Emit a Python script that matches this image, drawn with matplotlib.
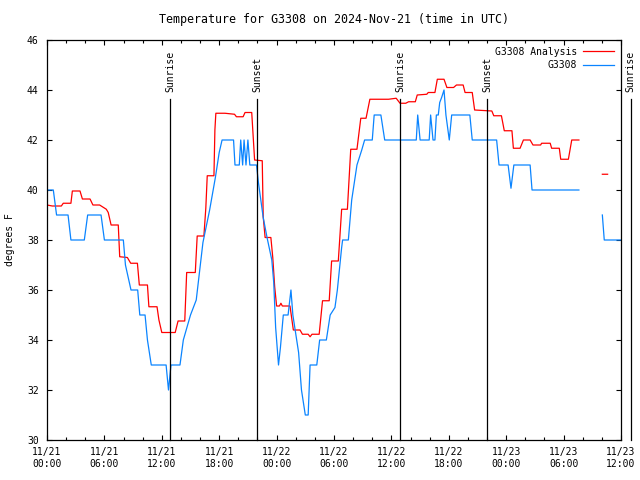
import numpy as np
import matplotlib
matplotlib.use("Agg")
import matplotlib.pyplot as plt
from matplotlib.ticker import MultipleLocator

# hours since 2024-11-21 00:00 UTC
analysis_hours = [0.0, 0.55, 1.5, 1.7, 2.5, 2.65, 3.45, 3.7, 4.5, 4.8, 5.5, 6.2, 6.4,
                  6.7, 7.45, 7.6, 8.4, 8.75, 9.45, 9.65, 10.5, 10.65, 11.5, 11.7, 12.0,
                  13.4, 13.7, 14.4, 14.6, 15.5, 15.7, 16.4, 16.6, 16.75, 17.45, 17.55,
                  17.65, 18.6, 19.6, 19.8, 20.5, 20.7, 21.4, 21.7, 22.5, 22.6, 22.8,
                  23.4, 23.6, 23.8, 24.0, 24.3, 24.45, 24.6, 25.4, 25.75, 26.45, 26.7,
                  27.3, 27.5, 27.7, 28.45, 28.8, 29.5, 29.75, 30.45, 30.8, 31.4, 31.75,
                  32.4, 32.8, 33.35, 33.75, 35.7, 36.5, 36.9, 37.5, 37.8, 38.5, 38.7,
                  39.7, 39.85, 40.55, 40.8, 41.5, 41.8, 42.5, 42.8, 43.5, 43.7, 44.45,
                  44.7, 46.5, 46.7, 47.5, 47.8, 48.6, 48.75, 49.45, 49.8, 50.5, 50.8,
                  51.6, 51.7, 52.6, 52.75, 53.55, 53.7, 54.5, 54.85, 55.6, 56.0,
                  58.05, 58.6]
analysis_temp = [39.4, 39.36, 39.36, 39.47, 39.47, 39.96, 39.96, 39.64, 39.64, 39.4, 39.4,
                 39.23, 39.1, 38.6, 38.6, 37.33, 37.3, 37.07, 37.07, 36.2, 36.2, 35.33,
                 35.33, 34.8, 34.3, 34.3, 34.76, 34.76, 36.7, 36.7, 38.16, 38.16, 39.27,
                 40.57, 40.57, 42.4, 43.07, 43.07, 43.03, 42.93, 42.93, 43.1, 43.1, 41.2,
                 41.17, 38.93, 38.1, 38.1, 37.3, 36.13, 35.36, 35.36, 35.47, 35.36, 35.36,
                 34.4, 34.4, 34.23, 34.23, 34.13, 34.23, 34.23, 35.57, 35.57, 37.16,
                 37.16, 39.23, 39.23, 41.63, 41.63, 42.87, 42.87, 43.63, 43.63, 43.67,
                 43.47, 43.47, 43.53, 43.53, 43.8, 43.83, 43.9, 43.9, 44.43, 44.43, 44.1,
                 44.1, 44.2, 44.2, 43.9, 43.9, 43.2, 43.16, 42.97, 42.97, 42.37, 42.37,
                 41.67, 41.67, 42.0, 42.0, 41.8, 41.8, 41.87, 41.87, 41.67, 41.67, 41.23,
                 41.23, 42.0, 42.0, np.nan, 40.63, 40.63]

obs_hours = [0.0, 0.66, 1.0, 2.2, 2.5, 3.9, 4.25, 5.65, 6.0, 7.98, 8.2, 8.78, 9.48, 9.7,
             10.25, 10.5, 10.9, 12.45, 12.7, 12.96, 13.9, 14.25, 15.0, 15.6, 16.3, 17.0,
             17.6, 18.0, 18.3, 19.5, 19.65, 20.1, 20.25, 20.45, 20.6, 20.8, 21.0, 21.2,
             21.9, 22.1, 22.6, 23.0, 23.5, 23.7, 23.9, 24.2, 24.4, 24.7, 25.2, 25.5, 25.7,
             26.3, 26.6, 27.0, 27.3, 27.5, 28.2, 28.5, 29.2, 29.6, 30.1, 30.35, 30.8, 30.9,
             31.5, 31.85, 32.4, 32.9, 33.2, 34.0, 34.2, 34.9, 35.3, 38.6, 38.75, 39.0,
             39.95, 40.1, 40.35, 40.55, 40.7, 40.9, 41.05, 41.25, 41.5, 41.7, 42.05,
             42.3, 44.2, 44.45, 47.0, 47.25, 48.2, 48.5, 48.8, 50.5, 50.7, 55.6, 56.0,
             58.05, 58.25, 60.0]
obs_temp = [40, 40, 39, 39, 38, 38, 39, 39, 38, 38, 37, 36, 36, 35, 35, 34, 33, 33, 32, 33,
            33, 34, 35, 35.6, 37.9, 39.2, 40.5, 41.5, 42, 42, 41, 41, 42, 41, 42, 41, 42,
            41, 41, 40.3, 38.9, 38.1, 37.2, 36.3, 34.5, 33.0, 33.7, 35, 35, 36, 35, 33.5,
            32, 31, 31, 33, 33, 34, 34, 35, 35.3, 36, 37.7, 38, 38, 39.6, 41.0, 41.6, 42,
            42, 43, 43, 42, 42, 43, 42, 42, 43, 42, 42, 43, 43, 43.5, 43.7, 44.0, 43, 42,
            43, 43, 42, 42, 41, 41, 40.07, 41, 41, 40, 40, np.nan, 39, 38, 38]

sun_events = [12.88, 21.97, 36.92, 46.0, 61.0]
sun_labels = ["Sunrise", "Sunset", "Sunrise", "Sunset", "Sunrise"]

tick_labels = ["11/21\n00:00", "11/21\n06:00", "11/21\n12:00", "11/21\n18:00",
               "11/22\n00:00", "11/22\n06:00", "11/22\n12:00", "11/22\n18:00",
               "11/23\n00:00", "11/23\n06:00", "11/23\n12:00"]

plt.rcParams['font.family'] = ['DejaVu Sans Mono']
plt.rcParams['font.size'] = 7

fig = plt.figure(figsize=(6.4, 4.8), dpi=100)
ax = fig.add_axes([47 / 640, 40 / 480, 574 / 640, 400 / 480])

ax.plot(analysis_hours, analysis_temp, color='#ff0000', lw=0.9, label='G3308 Analysis')
ax.plot(obs_hours, obs_temp, color='#0a84ff', lw=0.9, label='G3308')

for hr, name in zip(sun_events, sun_labels):
    ax.plot([hr, hr], [30, 43.64], color='black', lw=0.9, clip_on=False)
    ax.text(hr, 43.9, name, rotation=90, ha='center', va='bottom', clip_on=False)

ax.set_xlim(0, 60)
ax.set_ylim(30, 46)
ax.xaxis.set_minor_locator(MultipleLocator(2))
ax.set_xticks(np.arange(0, 61, 6))
ax.set_xticklabels(tick_labels)
ax.yaxis.set_major_locator(MultipleLocator(2))
ax.tick_params(which='both', direction='in', top=True, right=True, width=0.8)
ax.tick_params(which='major', length=3.5)
ax.tick_params(which='minor', length=2)
ax.tick_params(axis='x', pad=5)
ax.tick_params(axis='y', pad=6)
for side in ax.spines.values():
    side.set_linewidth(0.9)

ax.set_ylabel('degrees F')
ax.yaxis.set_label_coords(-0.056, 0.5)
ax.set_title('Temperature for G3308 on 2024-Nov-21 (time in UTC)', pad=12)

ax.legend(loc='upper right', frameon=False, markerfirst=False, handlelength=3.2,
          handletextpad=0.6, borderaxespad=0.3, labelspacing=0.35)

fig.savefig('out.png', dpi=100)
